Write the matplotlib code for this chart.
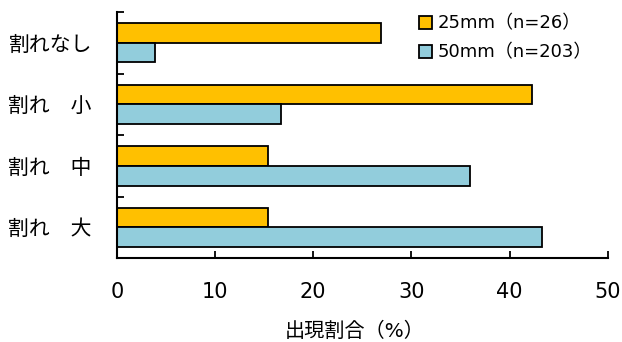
import numpy as np
import matplotlib
matplotlib.use("Agg")
import matplotlib.pyplot as plt
from matplotlib.ticker import FixedLocator

plt.rcParams['font.family'] = ['DejaVu Sans', 'Noto Sans CJK JP']

# データ
categories = ["割れなし", "割れ　小", "割れ　中", "割れ　大"]
series_names = ["25mm（n=26）", "50mm（n=203）"]
pct_25mm = [26.9, 42.3, 15.4, 15.4]
pct_50mm = [3.9, 16.7, 36.0, 43.3]
x_ticks = [0, 10, 20, 30, 40, 50]

fig = plt.figure(figsize=(6.22, 3.42), dpi=100)
ax = fig.add_axes([0.188, 0.245, 0.789, 0.72])

y = np.arange(len(categories))
h = 0.32
ax.barh(y - h / 2, pct_25mm, height=h, color="#FFC000", edgecolor="black",
        linewidth=1.3, label=series_names[0])
ax.barh(y + h / 2, pct_50mm, height=h, color="#92CDDC", edgecolor="black",
        linewidth=1.3, label=series_names[1])

ax.set_xlim(0, 50)
ax.set_ylim(len(categories) - 0.5, -0.5)
ax.set_xticks(x_ticks)
ax.set_yticks(y)
ax.set_yticklabels(categories, fontsize=15)
ax.yaxis.set_minor_locator(FixedLocator(np.arange(-0.5, len(categories) - 0.5, 1)))
ax.tick_params(axis="y", which="major", length=0, pad=18)
ax.tick_params(axis="y", which="minor", direction="in", length=5, width=1.3)
ax.tick_params(axis="x", direction="in", length=5, width=1.3, labelsize=15, pad=17)

for s in ["top", "right"]:
    ax.spines[s].set_visible(False)
for s in ["left", "bottom"]:
    ax.spines[s].set_linewidth(1.5)

ax.set_xlabel("出現割合（%）", fontsize=14.5, labelpad=14, x=0.484)

leg = ax.legend(loc="upper left", bbox_to_anchor=(0.6, 1.018), frameon=False,
                fontsize=13, handlelength=0.75, handleheight=0.75,
                handletextpad=0.3, labelspacing=0.6, borderaxespad=0.0)

fig.savefig("out.png", dpi=100)
